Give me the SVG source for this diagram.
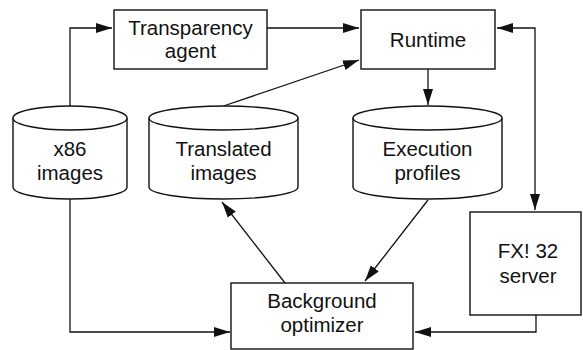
<svg xmlns="http://www.w3.org/2000/svg" width="583" height="350" viewBox="0 0 583 350">
<style>
.box{fill:#fff;stroke:#111;stroke-width:1.4}
.cyl{fill:#fff;stroke:#111;stroke-width:1.4}
.lbl{font-family:"Liberation Sans",Arial,Helvetica,sans-serif;font-size:20.5px;fill:#111;text-anchor:middle}
.edge{fill:none;stroke:#111;stroke-width:1.3}
</style>
<defs>
<marker id="ah" markerUnits="userSpaceOnUse" markerWidth="17" markerHeight="11" viewBox="0 0 17 11" refX="16" refY="5.5" orient="auto-start-reverse">
<path d="M0,0.5 L16,5.5 L0,10.5 z" fill="#111"/>
</marker>
</defs>
<rect width="583" height="350" fill="#fff"/>
<g id="connectors">
<polyline class="edge" points="70,106 70,28 112,28" marker-end="url(#ah)"/>
<line class="edge" x1="267" y1="28" x2="359" y2="28" marker-end="url(#ah)"/>
<line class="edge" x1="223.5" y1="106" x2="359" y2="60" marker-end="url(#ah)"/>
<line class="edge" x1="428" y1="69" x2="428" y2="105" marker-end="url(#ah)"/>
<polyline class="edge" points="497,28 535,28 535,210" marker-start="url(#ah)" marker-end="url(#ah)"/>
<line class="edge" x1="285" y1="283" x2="222" y2="202" marker-end="url(#ah)"/>
<line class="edge" x1="428" y1="200" x2="365" y2="281" marker-end="url(#ah)"/>
<polyline class="edge" points="70,199 70,332 230,332" marker-end="url(#ah)"/>
<polyline class="edge" points="536,315 536,332 415,332" marker-end="url(#ah)"/>
</g>
<g id="transparency-agent">
<rect class="box" x="114" y="10" width="153" height="59"/>
<text class="lbl" x="190.5" y="35">Transparency</text>
<text class="lbl" x="190.5" y="58">agent</text>
</g>
<g id="runtime">
<rect class="box" x="361" y="10" width="134" height="59"/>
<text class="lbl" x="428" y="46.5">Runtime</text>
</g>
<g id="x86-images">
<path class="cyl" d="M13,118 A57,12 0 0 1 127,118 L127,187 A57,12 0 0 1 13,187 Z"/>
<path class="cyl" d="M13,118 A57,12 0 0 0 127,118" fill="none"/>
<text class="lbl" x="70" y="156">x86</text>
<text class="lbl" x="70" y="180">images</text>
</g>
<g id="translated-images">
<path class="cyl" d="M149,118 A74.5,12 0 0 1 298,118 L298,187 A74.5,12 0 0 1 149,187 Z"/>
<path class="cyl" d="M149,118 A74.5,12 0 0 0 298,118" fill="none"/>
<text class="lbl" x="223.5" y="156">Translated</text>
<text class="lbl" x="223.5" y="180">images</text>
</g>
<g id="execution-profiles">
<path class="cyl" d="M353,118 A74.5,12 0 0 1 502,118 L502,187 A74.5,12 0 0 1 353,187 Z"/>
<path class="cyl" d="M353,118 A74.5,12 0 0 0 502,118" fill="none"/>
<text class="lbl" x="427.5" y="156">Execution</text>
<text class="lbl" x="427.5" y="180">profiles</text>
</g>
<g id="fx32-server">
<rect class="box" x="470" y="212" width="111" height="103"/>
<text class="lbl" x="528" y="258">FX! 32</text>
<text class="lbl" x="528" y="283">server</text>
</g>
<g id="background-optimizer">
<rect class="box" x="231" y="283" width="182" height="66"/>
<text class="lbl" x="322" y="308">Background</text>
<text class="lbl" x="322" y="332">optimizer</text>
</g>
</svg>
